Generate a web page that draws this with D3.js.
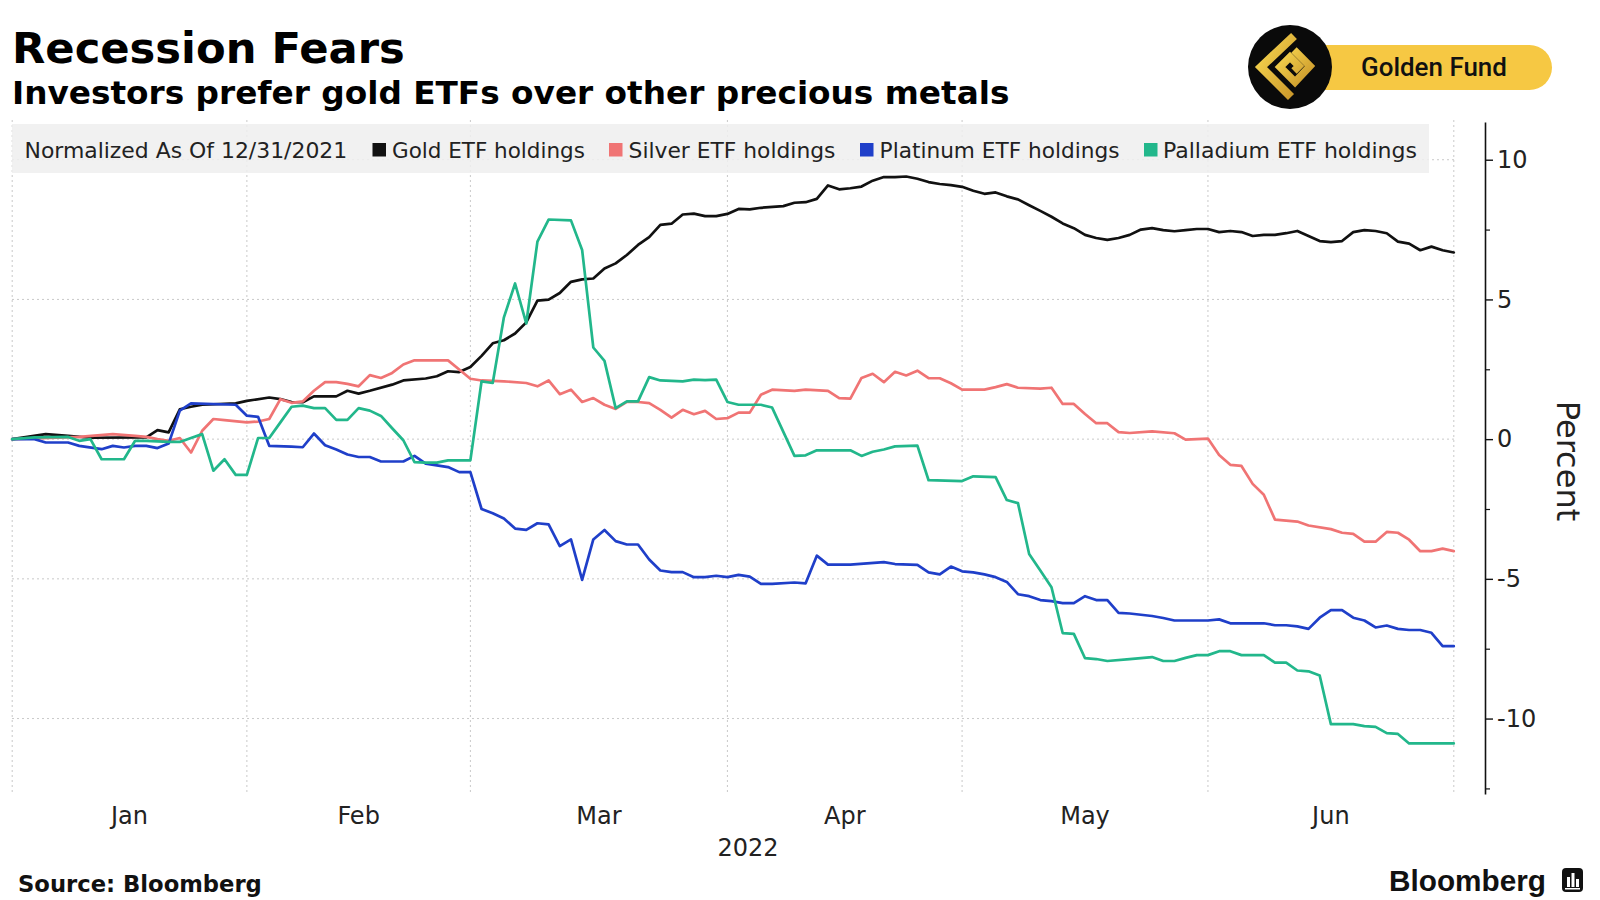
<!DOCTYPE html>
<html><head><meta charset="utf-8">
<script src="https://cdn.jsdelivr.net/npm/d3@7"></script>
<style>body{margin:0;background:#fff;} svg{display:block}</style>
</head><body>
<svg id="chart" width="1600" height="900"></svg>
<script>
// ---- data (day = weekday index counted from 2021-12-31, value = % change) ----
const months = ["Jan","Feb","Mar","Apr","May","Jun"];
const yearLabel = "2022";
const yTicks = [10,5,0,-5,-10];
const yMinorTicks = [7.5,2.5,-2.5,-7.5,-12.5];
const legendNote = "Normalized As Of 12/31/2021";
const seriesNames = ["Gold ETF holdings","Silver ETF holdings","Platinum ETF holdings","Palladium ETF holdings"];

const gold = [[0,0],[3,0.18],[5,0.12],[7,0.05],[12,0.06],[13,0.32],[14,0.24],[15,1.07],[16,1.16],[17,1.23],[20,1.28],[21,1.37],[23,1.49],[24,1.43],[25,1.33],[26,1.32],[27,1.53],[29,1.53],[30,1.73],[31,1.63],[32,1.73],[34,1.95],[35,2.1],[37,2.17],[38,2.25],[39,2.43],[40,2.4],[41,2.58],[42,2.98],[43,3.43],[44,3.54],[45,3.78],[46,4.18],[47,4.96],[48,4.99],[49,5.23],[50,5.63],[51,5.72],[52,5.75],[53,6.11],[54,6.29],[55,6.59],[56,6.95],[57,7.23],[58,7.67],[59,7.71],[60,8.04],[61,8.07],[62,7.98],[63,7.98],[64,8.06],[65,8.24],[66,8.22],[67,8.28],[69,8.34],[70,8.46],[71,8.48],[72,8.6],[73,9.08],[74,8.94],[75,8.98],[76,9.04],[77,9.25],[78,9.38],[79,9.38],[80,9.4],[81,9.32],[82,9.2],[83,9.13],[84,9.09],[85,9.03],[86,8.89],[87,8.78],[88,8.83],[89,8.69],[90,8.58],[91,8.37],[92,8.17],[93,7.96],[94,7.72],[95,7.55],[96,7.31],[97,7.2],[98,7.13],[99,7.2],[100,7.31],[101,7.5],[102,7.55],[103,7.48],[104,7.44],[105,7.48],[106,7.52],[107,7.52],[108,7.41],[109,7.45],[110,7.41],[111,7.27],[112,7.31],[113,7.31],[114,7.37],[115,7.45],[116,7.27],[117,7.09],[118,7.05],[119,7.09],[120,7.41],[121,7.48],[122,7.45],[123,7.37],[124,7.07],[125,7.0],[126,6.76],[127,6.89],[128,6.76],[129,6.68]];

const silver = [[0,0],[6,0.08],[9,0.18],[11,0.12],[12,0.08],[13,0],[14,-0.06],[15,0.04],[16,-0.48],[17,0.3],[18,0.72],[19,0.68],[21,0.6],[22,0.63],[23,0.72],[24,1.43],[25,1.3],[26,1.35],[27,1.73],[28,2.04],[29,2.04],[30,1.98],[31,1.89],[32,2.29],[33,2.19],[34,2.37],[35,2.67],[36,2.82],[39,2.82],[40,2.49],[41,2.16],[42,2.1],[44,2.07],[46,2.01],[47,1.89],[48,2.1],[49,1.61],[50,1.77],[51,1.33],[52,1.47],[53,1.23],[54,1.08],[55,1.33],[56,1.33],[57,1.29],[58,1.05],[59,0.77],[60,1.05],[61,0.89],[62,1.01],[63,0.72],[64,0.75],[65,0.95],[66,0.95],[67,1.59],[68,1.77],[70,1.73],[71,1.77],[73,1.73],[74,1.47],[75,1.45],[76,2.19],[77,2.34],[78,2.04],[79,2.41],[80,2.28],[81,2.45],[82,2.18],[83,2.18],[84,2.0],[85,1.77],[87,1.77],[88,1.86],[89,1.97],[90,1.84],[92,1.81],[93,1.84],[94,1.26],[95,1.26],[96,0.9],[97,0.57],[98,0.57],[99,0.25],[100,0.22],[102,0.28],[104,0.21],[105,-0.02],[107,0.02],[108,-0.57],[109,-0.92],[110,-0.96],[111,-1.6],[112,-1.99],[113,-2.88],[115,-2.95],[116,-3.09],[118,-3.22],[119,-3.35],[120,-3.39],[121,-3.67],[122,-3.67],[123,-3.32],[124,-3.35],[125,-3.6],[126,-4.01],[127,-4.01],[128,-3.92],[129,-4.01]];

const platinum = [[0,0],[2,0],[3,-0.12],[5,-0.12],[6,-0.24],[8,-0.36],[9,-0.24],[10,-0.3],[11,-0.24],[12,-0.24],[13,-0.32],[14,-0.16],[15,1.02],[16,1.28],[20,1.23],[21,0.84],[22,0.8],[23,-0.24],[25,-0.27],[26,-0.29],[27,0.2],[28,-0.22],[29,-0.37],[30,-0.55],[31,-0.64],[32,-0.64],[33,-0.8],[35,-0.8],[36,-0.6],[37,-0.88],[38,-0.94],[39,-1.0],[40,-1.18],[41,-1.18],[42,-2.5],[43,-2.65],[44,-2.84],[45,-3.2],[46,-3.25],[47,-3.01],[48,-3.05],[49,-3.83],[50,-3.59],[51,-5.04],[52,-3.59],[53,-3.25],[54,-3.65],[55,-3.77],[56,-3.77],[57,-4.31],[58,-4.7],[59,-4.76],[60,-4.76],[61,-4.94],[62,-4.94],[63,-4.89],[64,-4.94],[65,-4.86],[66,-4.92],[67,-5.18],[68,-5.18],[70,-5.13],[71,-5.16],[72,-4.17],[73,-4.49],[75,-4.49],[78,-4.4],[79,-4.47],[81,-4.5],[82,-4.77],[83,-4.84],[84,-4.56],[85,-4.73],[86,-4.77],[87,-4.84],[88,-4.94],[89,-5.11],[90,-5.55],[91,-5.62],[92,-5.76],[93,-5.8],[94,-5.87],[95,-5.87],[96,-5.62],[97,-5.76],[98,-5.76],[99,-6.22],[100,-6.24],[102,-6.33],[103,-6.4],[104,-6.49],[107,-6.49],[108,-6.45],[109,-6.59],[112,-6.59],[113,-6.66],[114,-6.66],[115,-6.7],[116,-6.79],[117,-6.39],[118,-6.12],[119,-6.12],[120,-6.39],[121,-6.49],[122,-6.74],[123,-6.67],[124,-6.79],[125,-6.83],[126,-6.83],[127,-6.93],[128,-7.41],[129,-7.41]];

const palladium = [[0,0],[2,0.06],[5,0.08],[6,-0.06],[7,0],[8,-0.72],[10,-0.72],[11,-0.06],[12,-0.06],[14,-0.1],[15,-0.1],[16,0.04],[17,0.18],[18,-1.13],[19,-0.72],[20,-1.28],[21,-1.28],[22,0.04],[23,0.04],[24,0.6],[25,1.16],[26,1.2],[27,1.11],[28,1.11],[29,0.69],[30,0.69],[31,1.11],[32,1.02],[33,0.83],[34,0.39],[35,-0.04],[36,-0.82],[37,-0.84],[38,-0.84],[39,-0.76],[41,-0.76],[42,2.07],[43,2.01],[44,4.36],[45,5.57],[46,4.14],[47,7.07],[48,7.86],[50,7.83],[51,6.77],[52,3.28],[53,2.8],[54,1.11],[55,1.35],[56,1.35],[57,2.22],[58,2.1],[60,2.07],[61,2.13],[62,2.11],[63,2.13],[64,1.33],[65,1.23],[67,1.23],[68,1.13],[70,-0.6],[71,-0.58],[72,-0.4],[75,-0.4],[76,-0.6],[77,-0.45],[78,-0.37],[79,-0.26],[81,-0.23],[82,-1.47],[85,-1.5],[86,-1.33],[88,-1.36],[89,-2.18],[90,-2.29],[91,-4.11],[92,-4.7],[93,-5.3],[94,-6.94],[95,-6.97],[96,-7.84],[97,-7.87],[98,-7.94],[100,-7.87],[102,-7.8],[103,-7.94],[104,-7.94],[105,-7.83],[106,-7.73],[107,-7.73],[108,-7.59],[109,-7.59],[110,-7.73],[112,-7.73],[113,-8.0],[114,-8.0],[115,-8.28],[116,-8.31],[117,-8.46],[118,-10.2],[120,-10.2],[121,-10.27],[122,-10.3],[123,-10.52],[124,-10.55],[125,-10.89],[129,-10.89]];

const seriesData = [gold, silver, platinum, palladium];
const seriesColors = ["#111111","#f07474","#1f3fc9","#22b78b"];

// ---- chart ----
const svg = d3.select("#chart");
const FONT = "'DejaVu Sans', sans-serif";

const tradingDays = d3.timeDay.range(new Date(2021,11,31), new Date(2022,6,1))
  .filter(d => d.getDay() !== 0 && d.getDay() !== 6);
const x = d3.scaleLinear().domain([0, tradingDays.length - 1]).range([12.2, 1453.8]);
const y = d3.scaleLinear().domain([-12.7, 11.35]).range([794, 122]);

// month boundaries (last weekday of previous month)
const bounds = [0];
tradingDays.forEach((d,i) => {
  if (i > 1 && d.getMonth() !== tradingDays[i-1].getMonth()) bounds.push(i-1);
});
bounds.push(tradingDays.length - 1);

const grid = svg.append("g");
grid.selectAll("line.v").data(bounds).join("line")
  .attr("x1", d => x(d)).attr("x2", d => x(d))
  .attr("y1", 120).attr("y2", 794)
  .attr("stroke", "#c9c9c9").attr("stroke-width", 1).attr("stroke-dasharray", "2,3");
grid.selectAll("line.h").data(yTicks).join("line")
  .attr("x1", 12).attr("x2", 1456)
  .attr("y1", d => y(d)).attr("y2", d => y(d))
  .attr("stroke", "#c9c9c9").attr("stroke-width", 1).attr("stroke-dasharray", "2,3");

// lines
const line = d3.line().x(d => x(d[0])).y(d => y(d[1]));
svg.append("g").selectAll("path").data(seriesData).join("path")
  .attr("d", line).attr("fill", "none")
  .attr("stroke", (d,i) => seriesColors[i]).attr("stroke-width", 2.7)
  .attr("stroke-linejoin", "round").attr("stroke-linecap", "round");

// right axis
const axisG = svg.append("g").attr("transform", "translate(1485,0)")
  .call(d3.axisRight(y).tickValues(yTicks).tickSize(8).tickSizeOuter(0).tickPadding(4)
        .tickFormat(d => d < 0 ? "-" + Math.abs(d) : String(d)));
axisG.select(".domain").attr("stroke", "#111").attr("stroke-width", 1.6);
axisG.selectAll(".tick line").attr("stroke", "#111").attr("stroke-width", 1.4);
axisG.selectAll(".tick text").attr("font-family", FONT).attr("font-size", 24).attr("fill", "#222");
const minorG = svg.append("g").attr("transform", "translate(1485,0)")
  .call(d3.axisRight(y).tickValues(yMinorTicks).tickSize(5).tickFormat(""));
minorG.select(".domain").remove();
minorG.selectAll(".tick line").attr("stroke", "#111").attr("stroke-width", 1.2);

svg.append("text").attr("transform", "translate(1557,461) rotate(90)")
  .attr("text-anchor", "middle").attr("font-family", FONT).attr("font-size", 32).attr("fill", "#222")
  .text("Percent");

// x labels
const monthCenters = months.map((m,i) => (x(bounds[i]) + x(bounds[i+1])) / 2);
svg.append("g").selectAll("text").data(months).join("text")
  .attr("x", (d,i) => monthCenters[i]).attr("y", 824)
  .attr("text-anchor", "middle").attr("font-family", FONT).attr("font-size", 24).attr("fill", "#222")
  .text(d => d);
svg.append("text").attr("x", 748).attr("y", 856).attr("text-anchor", "middle")
  .attr("font-family", FONT).attr("font-size", 24).attr("fill", "#222").text(yearLabel);

// legend
svg.append("rect").attr("x", 12).attr("y", 124).attr("width", 1417).attr("height", 49)
  .attr("fill", "#eeeeee").attr("fill-opacity", 0.85);
function fit(sel, w) {
  const l = sel.node().getComputedTextLength();
  const fs = parseFloat(sel.attr("font-size"));
  sel.attr("font-size", fs * w / l);
  return sel;
}
const legendText = (tx, xPos, w) => fit(svg.append("text").attr("x", xPos).attr("y", 158)
  .attr("font-family", FONT).attr("font-size", 21.5).attr("fill", "#222").text(tx), w);
legendText(legendNote, 24.5, 323);
const legSquareX = [372.5, 609, 860, 1144];
const legTextX = [392, 628.6, 879.6, 1163];
const legTextW = [193, 207, 240, 254];
seriesNames.forEach((n,i) => {
  svg.append("rect").attr("x", legSquareX[i]).attr("y", 143).attr("width", 13.5).attr("height", 13.5)
    .attr("fill", seriesColors[i]);
  legendText(n, legTextX[i], legTextW[i]);
});

// titles
fit(svg.append("text").attr("x", 12).attr("y", 63).attr("font-family", FONT)
  .attr("font-weight", "bold").attr("font-size", 43).attr("fill", "#000").text("Recession Fears"), 393);
fit(svg.append("text").attr("x", 12).attr("y", 104).attr("font-family", FONT)
  .attr("font-weight", "bold").attr("font-size", 30).attr("fill", "#000")
  .text("Investors prefer gold ETFs over other precious metals"), 998);

// footer
fit(svg.append("text").attr("x", 18).attr("y", 892).attr("font-family", FONT)
  .attr("font-weight", "bold").attr("font-size", 22.5).attr("fill", "#111").text("Source: Bloomberg"), 244);
fit(svg.append("text").attr("x", 1389).attr("y", 891).attr("font-family", "'Liberation Sans', Arial, sans-serif")
  .attr("font-weight", "bold").attr("font-size", 29.5).attr("fill", "#111").text("Bloomberg"), 157);
const ic = svg.append("g").attr("transform", "translate(1562,868)");
ic.append("rect").attr("width", 21).attr("height", 24).attr("rx", 4).attr("fill", "#111");
[[5,9,3,10],[9.5,5,3,14],[14,11,3,8]].forEach(b => ic.append("rect")
  .attr("x", b[0]).attr("y", b[1]).attr("width", b[2]).attr("height", b[3]).attr("fill", "#fff"));
ic.append("rect").attr("x", 3).attr("y", 20).attr("width", 15).attr("height", 1.5).attr("fill", "#fff");

// Golden Fund badge
const defs = svg.append("defs");
const gr = defs.append("linearGradient").attr("id", "goldGrad")
  .attr("x1", "0").attr("y1", "0").attr("x2", "1").attr("y2", "1");
gr.append("stop").attr("offset", "0").attr("stop-color", "#f8d850");
gr.append("stop").attr("offset", "1").attr("stop-color", "#c9962a");
svg.append("rect").attr("x", 1270).attr("y", 45).attr("width", 282).attr("height", 45)
  .attr("rx", 22.5).attr("fill", "#f6c843");
svg.append("circle").attr("cx", 1290).attr("cy", 67).attr("r", 42).attr("fill", "#0a0a0a");
const lg = svg.append("g");
lg.append("path").attr("d", "M1294,36 L1261,67 L1291,97")
  .attr("fill", "none").attr("stroke", "url(#goldGrad)").attr("stroke-width", 8.5).attr("stroke-linejoin", "miter");
lg.append("path").attr("d", "M1294,50 L1310,66 L1295,82 L1280,67 L1290,57 L1299,66 L1294,71")
  .attr("fill", "none").attr("stroke", "url(#goldGrad)").attr("stroke-width", 7.5).attr("stroke-linejoin", "miter");
fit(svg.append("text").attr("x", 1361).attr("y", 76).attr("font-family", "Roboto, sans-serif")
  .attr("font-weight", 500).attr("font-size", 25).attr("fill", "#111").text("Golden Fund"), 146);
</script>
</body></html>
